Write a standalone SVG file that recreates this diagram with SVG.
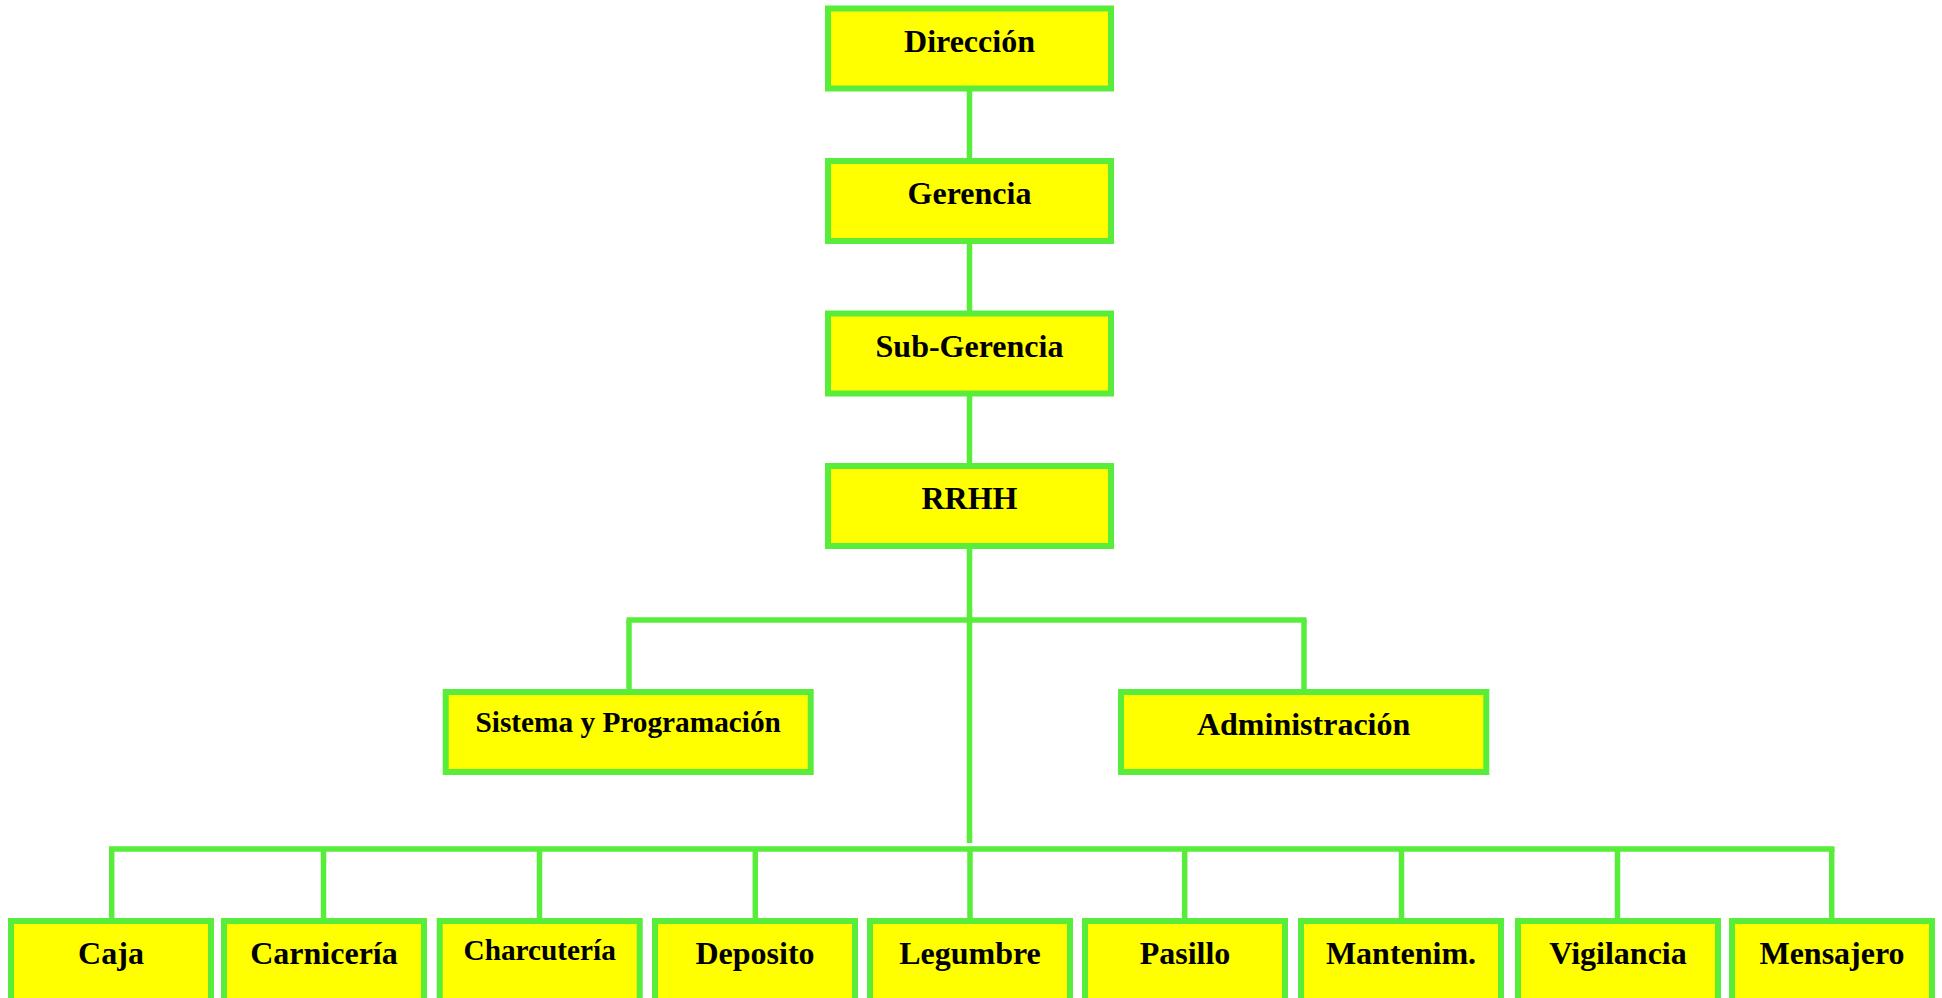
<svg xmlns="http://www.w3.org/2000/svg" width="1942" height="998" viewBox="0 0 1942 998">
<style>
.box{fill:#FFFF00;stroke:#58ED3A;stroke-width:6}
.ln{stroke:#58ED3A;stroke-width:5.5;fill:none}
.t{font-family:"Liberation Serif","Times New Roman",serif;font-weight:bold;font-size:32px;fill:#000;text-anchor:middle}
.s{font-size:29.3px}
</style>
<rect width="1942" height="998" fill="#FFFFFF"/>
<g id="connectors">
<line class="ln" x1="969.5" y1="88" x2="969.5" y2="161"/>
<line class="ln" x1="969.5" y1="241" x2="969.5" y2="313.5"/>
<line class="ln" x1="969.5" y1="393.5" x2="969.5" y2="466"/>
<line class="ln" x1="969.5" y1="546" x2="969.5" y2="843"/>
<line class="ln" x1="626.5" y1="620" x2="1306.5" y2="620"/>
<line class="ln" x1="629" y1="620" x2="629" y2="692"/>
<line class="ln" x1="1304" y1="620" x2="1304" y2="692"/>
<line class="ln" x1="109" y1="849" x2="1834.5" y2="849"/>
<line class="ln" x1="111.7" y1="849" x2="111.7" y2="921"/>
<line class="ln" x1="323.5" y1="849" x2="323.5" y2="921"/>
<line class="ln" x1="539.5" y1="849" x2="539.5" y2="921"/>
<line class="ln" x1="755.3" y1="849" x2="755.3" y2="921"/>
<line class="ln" x1="970" y1="849" x2="970" y2="921"/>
<line class="ln" x1="1184.7" y1="849" x2="1184.7" y2="921"/>
<line class="ln" x1="1401.5" y1="849" x2="1401.5" y2="921"/>
<line class="ln" x1="1617.5" y1="849" x2="1617.5" y2="921"/>
<line class="ln" x1="1831.7" y1="849" x2="1831.7" y2="921"/>
</g>
<g id="direccion"><rect class="box" x="828" y="8.5" width="283" height="80"/><text class="t" x="969.5" y="52">Dirección</text></g>
<g id="gerencia"><rect class="box" x="828" y="161" width="283" height="80"/><text class="t" x="969.5" y="204">Gerencia</text></g>
<g id="subgerencia"><rect class="box" x="828" y="313.5" width="283" height="80"/><text class="t" x="969.5" y="356.5">Sub-Gerencia</text></g>
<g id="rrhh"><rect class="box" x="828" y="466" width="283" height="80"/><text class="t" x="969.5" y="509">RRHH</text></g>
<g id="sistema"><rect class="box" x="445.7" y="692" width="365" height="80"/><text class="t s" x="628.2" y="731.5">Sistema y Programación</text></g>
<g id="administracion"><rect class="box" x="1121" y="692" width="365.3" height="80"/><text class="t" x="1303.6" y="735">Administración</text></g>
<g id="caja"><rect class="box" x="11" y="921" width="200" height="120"/><text class="t" x="111" y="964">Caja</text></g>
<g id="carniceria"><rect class="box" x="224" y="921" width="200" height="120"/><text class="t" x="324" y="964">Carnicería</text></g>
<g id="charcuteria"><rect class="box" x="439.7" y="921" width="200" height="120"/><text class="t s" x="539.7" y="960">Charcutería</text></g>
<g id="deposito"><rect class="box" x="655" y="921" width="200" height="120"/><text class="t" x="755" y="964">Deposito</text></g>
<g id="legumbre"><rect class="box" x="870" y="921" width="200" height="120"/><text class="t" x="970" y="964">Legumbre</text></g>
<g id="pasillo"><rect class="box" x="1085" y="921" width="200" height="120"/><text class="t" x="1185" y="964">Pasillo</text></g>
<g id="mantenim"><rect class="box" x="1301" y="921" width="200" height="120"/><text class="t" x="1401" y="964">Mantenim.</text></g>
<g id="vigilancia"><rect class="box" x="1518" y="921" width="200" height="120"/><text class="t" x="1618" y="964">Vigilancia</text></g>
<g id="mensajero"><rect class="box" x="1732" y="921" width="200" height="120"/><text class="t" x="1832" y="964">Mensajero</text></g>
</svg>
